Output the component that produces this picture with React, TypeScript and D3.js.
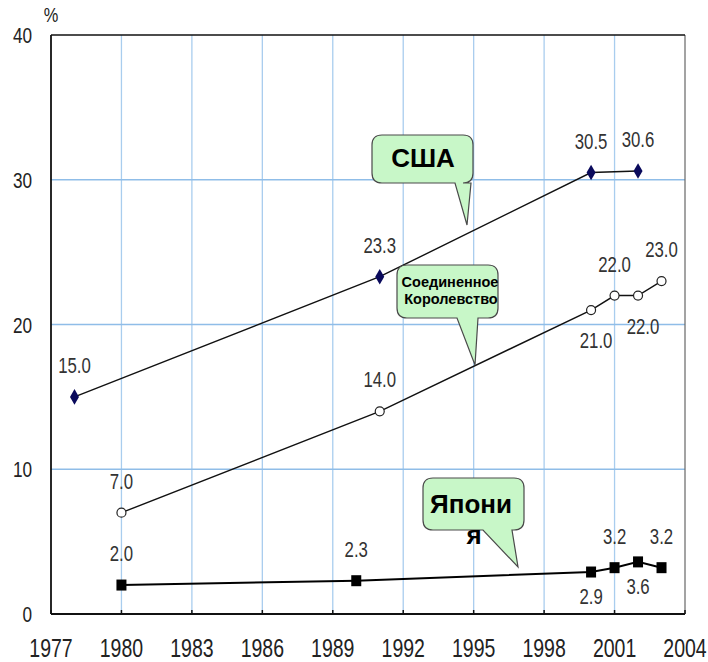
import * as d3 from 'd3';

const usaYears = [1978, 1991, 2000, 2002];
const usaValues = [15.0, 23.3, 30.5, 30.6];

const ukYears = [1980, 1991, 2000, 2001, 2002, 2003];
const ukValues = [7.0, 14.0, 21.0, 22.0, 22.0, 23.0];
const ukLabelSide = ['above', 'above', 'below', 'above', 'below', 'above'];

const jpYears = [1980, 1990, 2000, 2001, 2002, 2003];
const jpValues = [2.0, 2.3, 2.9, 3.2, 3.6, 3.2];
const jpLabelSide = ['above', 'above', 'below', 'above', 'below', 'above'];

const xTicks = [1977, 1980, 1983, 1986, 1989, 1992, 1995, 1998, 2001, 2004];
const yTicks = [0, 10, 20, 30, 40];

const W = 708;
const H = 662;
const LABEL_FONT = '"Liberation Sans", Arial, sans-serif';

type Pt = { year: number; value: number; side: string };

function zip(years: number[], values: number[], sides?: string[]): Pt[] {
  return years.map((year, i) => ({ year, value: values[i], side: sides ? sides[i] : 'above' }));
}

// rounded box with a tail going down to (tx, ty)
function bubblePath(x0: number, y0: number, x1: number, y1: number, b1: number, b2: number, tx: number, ty: number) {
  const r = 10;
  return `M${x0 + r},${y0} H${x1 - r} Q${x1},${y0} ${x1},${y0 + r} V${y1 - r} Q${x1},${y1} ${x1 - r},${y1}` +
    ` H${b2} L${tx},${ty} L${b1},${y1} H${x0 + r} Q${x0},${y1} ${x0},${y1 - r} V${y0 + r} Q${x0},${y0} ${x0 + r},${y0} Z`;
}

// narrow-looking text: regular sans squeezed horizontally
function NarrowText({ x, y, size, anchor = 'middle', fill = '#333', children }: {
  x: number; y: number; size: number; anchor?: string; fill?: string; children: React.ReactNode;
}) {
  return (
    <g transform={`translate(${x},${y}) scale(0.78,1)`}>
      <text x={0} y={0} fontFamily={LABEL_FONT} fontSize={size} fill={fill} textAnchor={anchor}>{children}</text>
    </g>
  );
}

export default function App() {
  const x = d3.scaleLinear().domain([1977, 2004]).range([51, 685]);
  const y = d3.scaleLinear().domain([0, 40]).range([614, 35]);

  const usa = zip(usaYears, usaValues);
  const uk = zip(ukYears, ukValues, ukLabelSide);
  const jp = zip(jpYears, jpValues, jpLabelSide);

  const line = d3.line<Pt>().x(d => x(d.year)).y(d => y(d.value));
  const diamond = d3.symbol().type(d3.symbolDiamond).size(70)();

  const labelY = (d: Pt) => (d.side === 'above' ? y(d.value) - 24 : y(d.value) + 32);

  return (
    <svg width={W} height={H} style={{ position: 'absolute', left: 0, top: 0, background: '#fff' }}>
      {/* grid */}
      {xTicks.slice(1, -1).map(t => (
        <line key={'gx' + t} x1={x(t)} x2={x(t)} y1={y(40)} y2={y(0)} stroke="#a9cdee" strokeWidth={1.3} />
      ))}
      {yTicks.slice(1, -1).map(t => (
        <line key={'gy' + t} x1={x(1977)} x2={x(2004)} y1={y(t)} y2={y(t)} stroke="#8fbde8" strokeWidth={1.5} />
      ))}
      <line x1={x(2004)} x2={x(2004)} y1={y(40)} y2={y(0)} stroke="#666" strokeWidth={1.2} />
      <line x1={x(1977)} x2={x(2004)} y1={y(40)} y2={y(40)} stroke="#111" strokeWidth={1.5} />
      <line x1={x(1977)} x2={x(1977)} y1={y(40)} y2={y(0)} stroke="#111" strokeWidth={1.8} />
      <line x1={x(1977)} x2={x(2004)} y1={y(0)} y2={y(0)} stroke="#111" strokeWidth={1.8} />
      {xTicks.map(t => (
        <line key={'tx' + t} x1={x(t)} x2={x(t)} y1={y(0) - 4} y2={y(0)} stroke="#111" strokeWidth={1.5} />
      ))}

      {/* axis labels */}
      {yTicks.map(t => (
        <NarrowText key={'ly' + t} x={32} y={y(t) + 8} size={22} anchor="end" fill="#222">{t}</NarrowText>
      ))}
      {xTicks.map(t => (
        <NarrowText key={'lx' + t} x={x(t)} y={657} size={25} fill="#222">{t}</NarrowText>
      ))}
      <NarrowText x={51} y={22} size={21} fill="#222">%</NarrowText>

      {/* series lines */}
      <path d={line(usa) ?? ''} fill="none" stroke="#111" strokeWidth={1.4} />
      <path d={line(uk) ?? ''} fill="none" stroke="#111" strokeWidth={1.4} />
      <path d={line(jp) ?? ''} fill="none" stroke="#000" strokeWidth={2} />

      {/* markers */}
      {usa.map(d => (
        <path key={'mu' + d.year} d={diamond ?? ''} transform={`translate(${x(d.year)},${y(d.value)})`} fill="#0a0a5c" />
      ))}
      {uk.map(d => (
        <circle key={'mk' + d.year} cx={x(d.year)} cy={y(d.value)} r={4.5} fill="#fff" stroke="#222" strokeWidth={1.2} />
      ))}
      {jp.map(d => (
        <rect key={'mj' + d.year} x={x(d.year) - 5} y={y(d.value) - 5.5} width={10} height={11} fill="#000" />
      ))}

      {/* value labels */}
      {usa.map(d => (
        <NarrowText key={'vu' + d.year} x={x(d.year)} y={y(d.value) - 24} size={21.5}>{d.value.toFixed(1)}</NarrowText>
      ))}
      {uk.map(d => (
        <NarrowText key={'vk' + d.year} x={x(d.year) + (d.side === 'below' ? 5 : 0)}
          y={labelY(d) + (d.side === 'below' ? 6 : 0)} size={21.5}>
          {d.value.toFixed(1)}
        </NarrowText>
      ))}
      {jp.map(d => (
        <NarrowText key={'vj' + d.year} x={x(d.year)} y={labelY(d)} size={21.5}>{d.value.toFixed(1)}</NarrowText>
      ))}

      {/* callouts */}
      <g fill="#c8f7c8" stroke="#4a4a4a" strokeWidth={1.2}>
        <path d={bubblePath(372, 135, 473, 183, 455, 471, 467, 225)} />
        <path d={bubblePath(397, 265, 498, 318, 457, 478, 475, 365)} />
        <path d={bubblePath(423, 478, 524, 530, 483, 512, 518, 567)} />
      </g>
      <g fontFamily='"Liberation Sans", Arial, sans-serif' fontWeight="bold" fill="#000" textAnchor="middle">
        <text x={423} y={167} fontSize={26}>США</text>
        <text x={450} y={287} fontSize={14.5}>Соединенное</text>
        <text x={451} y={304} fontSize={14.5}>Королевство</text>
        <text x={471} y={513} fontSize={26}>Япони</text>
        <text x={474} y={544} fontSize={26}>я</text>
      </g>
    </svg>
  );
}
